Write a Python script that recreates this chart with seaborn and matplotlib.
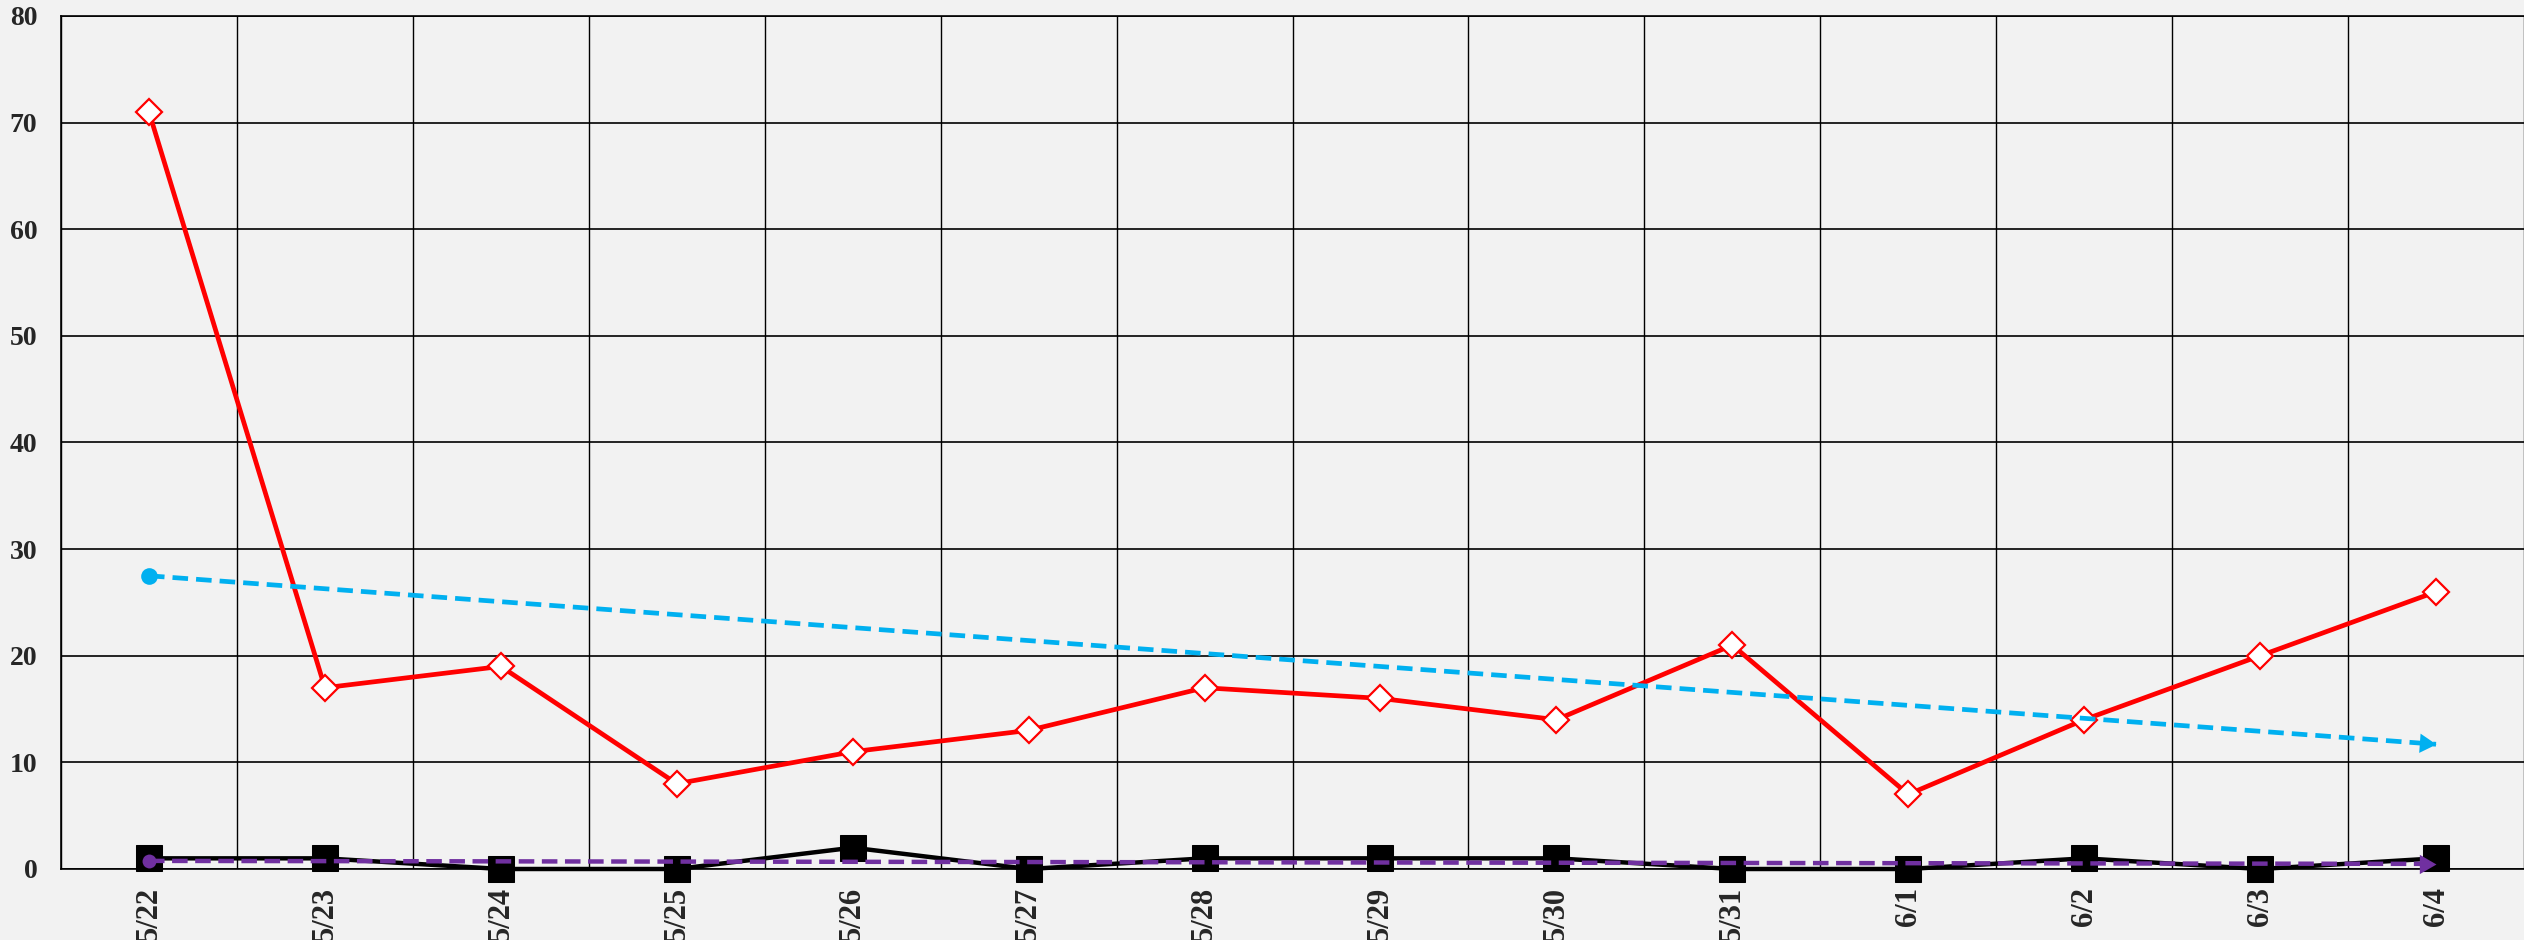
import numpy as np
import pandas as pd
import matplotlib
matplotlib.use("Agg")
import matplotlib.pyplot as plt
import seaborn as sns
from matplotlib.path import Path
from matplotlib.markers import MarkerStyle
from matplotlib.transforms import Affine2D

# Données
dates = ['5/22', '5/23', '5/24', '5/25', '5/26', '5/27', '5/28',
         '5/29', '5/30', '5/31', '6/1', '6/2', '6/3', '6/4']
rouge = [71, 17, 19, 8, 11, 13, 17, 16, 14, 21, 7, 14, 20, 26]
noir = [1, 1, 0, 0, 2, 0, 1, 1, 1, 0, 0, 1, 0, 1]
# Tendances (début, fin)
tendance_bleue = [27.5, 11.7]
tendance_violette = [0.76, 0.48]
y_ticks = [0, 10, 20, 30, 40, 50, 60, 70, 80]

BG = '#F2F2F2'
ROUGE = '#FF0000'
BLEU = '#00B0F0'
VIOLET = '#7030A0'

sns.set_style("white")
plt.rcParams['font.family'] = ['Liberation Serif', 'DejaVu Serif']
plt.rcParams['font.weight'] = 'bold'

x = np.arange(len(dates))
df = pd.DataFrame({'x': x, 'rouge': rouge, 'noir': noir})
df_bleu = pd.DataFrame({'x': [x[0], x[-1]], 'y': tendance_bleue})
df_violet = pd.DataFrame({'x': [x[0], x[-1]], 'y': tendance_violette})

fig = plt.figure(figsize=(25.24, 9.4), dpi=100, facecolor=BG)
ax = fig.add_axes([61 / 2524, 71 / 940, 1 - 61 / 2524, 853 / 940])
ax.set_facecolor(BG)

ax.set_xlim(-0.5, len(dates) - 0.5)
ax.set_ylim(0, 80)

# Séries
sns.lineplot(data=df, x='x', y='rouge', ax=ax, color=ROUGE, linewidth=3.4,
             marker='D', markersize=13, markerfacecolor='white',
             markeredgecolor=ROUGE, markeredgewidth=1.6, zorder=4,
             clip_on=False)
sns.lineplot(data=df, x='x', y='noir', ax=ax, color='black', linewidth=3.2,
             marker='s', markersize=19, markerfacecolor='black',
             markeredgecolor='black', zorder=4, clip_on=False)
sns.lineplot(data=df_bleu, x='x', y='y', ax=ax, color=BLEU, linewidth=3.4,
             linestyle=(0, (3.3, 1.7)), zorder=5, clip_on=False)
sns.lineplot(data=df_violet, x='x', y='y', ax=ax, color=VIOLET, linewidth=3.2,
             linestyle=(0, (3.5, 1.7)), zorder=6, clip_on=False)


def fleche(ax, xs, ys, color, z, taille_rond):
    # rond au début, flèche à la fin (style Excel)
    ax.plot(xs[0], ys[0], marker='o', markersize=taille_rond, color=color,
            markeredgewidth=0, zorder=z, clip_on=False)
    p0 = ax.transData.transform((xs[0], ys[0]))
    p1 = ax.transData.transform((xs[-1], ys[-1]))
    ang = np.degrees(np.arctan2(p1[1] - p0[1], p1[0] - p0[0]))
    tri = Path([(0, 0), (-1, 0.58), (-1, -0.58), (0, 0)],
               [Path.MOVETO, Path.LINETO, Path.LINETO, Path.CLOSEPOLY])
    m = MarkerStyle(tri, transform=Affine2D().rotate_deg(ang))
    ax.plot(xs[-1], ys[-1], marker=m, markersize=24, color=color,
            markeredgewidth=0, zorder=z, clip_on=False)


fleche(ax, df_bleu['x'].values, df_bleu['y'].values, BLEU, 5, 12)
fleche(ax, df_violet['x'].values, df_violet['y'].values, VIOLET, 6, 10)

# Axes et grille
ax.set_yticks(y_ticks)
ax.set_yticklabels([str(v) for v in y_ticks], fontsize=20, fontweight='bold')
ax.set_xticks(x)
ax.set_xticklabels(dates, rotation=90, fontsize=22, fontweight='bold')
ax.set_xticks(np.arange(-0.5, len(dates)), minor=True)
ax.tick_params(axis='both', which='both', length=0)
ax.tick_params(axis='y', pad=17)
ax.tick_params(axis='x', pad=13)
ax.grid(axis='y', which='major', color='black', linewidth=1.2)
ax.grid(axis='x', which='minor', color='black', linewidth=1.0)
ax.grid(axis='x', which='major', visible=False)
ax.set_axisbelow(True)
for s in ['left', 'top', 'bottom']:
    ax.spines[s].set_color('black')
    ax.spines[s].set_linewidth(1.2)
ax.spines['right'].set_visible(False)
ax.set_xlabel('')
ax.set_ylabel('')

fig.savefig('out.png', dpi=100, facecolor=BG)
